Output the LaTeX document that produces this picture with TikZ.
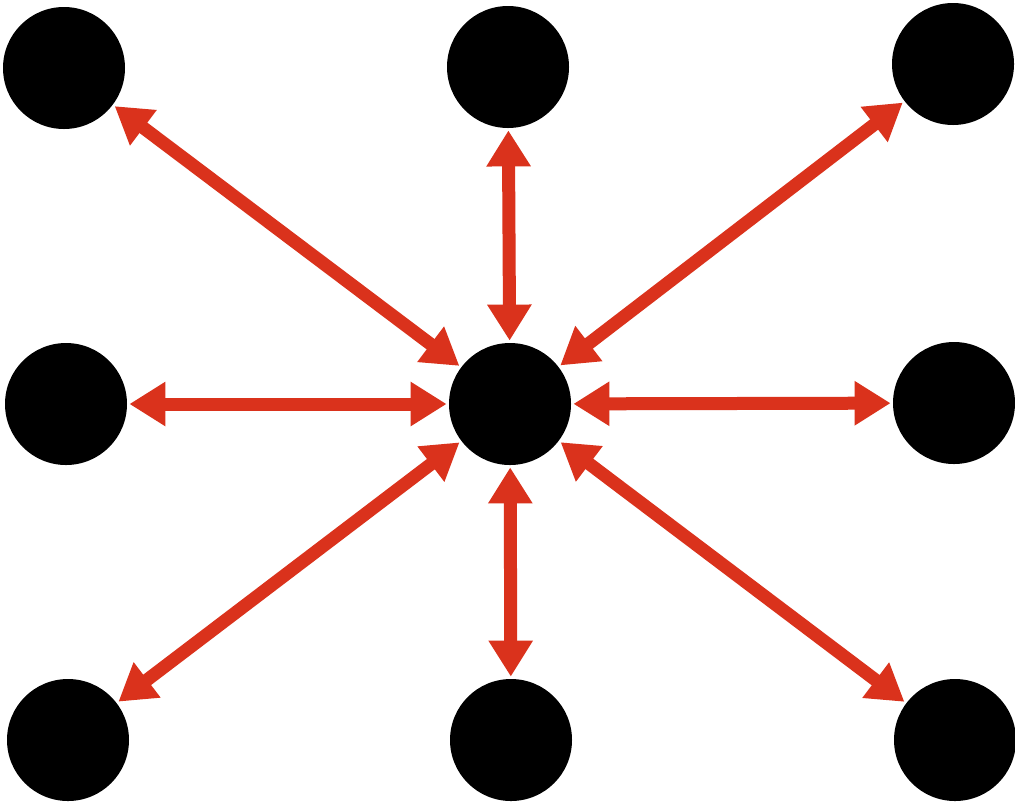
\documentclass[tikz,border=0pt]{standalone}
\usetikzlibrary{arrows.meta}
\definecolor{arrowred}{RGB}{218,50,28}
\begin{document}
\begin{tikzpicture}[x=0.5pt,y=-0.5pt,
  dot/.style={circle,fill=black,draw=none,minimum size=61pt,inner sep=0pt,outer sep=1.2pt},
  link/.style={draw=arrowred,line width=6.5pt,{Triangle[length=18pt,width=21pt]}-{Triangle[length=18pt,width=21pt]}}]
\useasboundingbox (0,0) rectangle (1015,804);
\fill[white] (0,0) rectangle (1015,804);
\node[dot] (c) at (510,404) {};
\node[dot] (tl) at (64,68) {};
\node[dot] (tc) at (508,67) {};
\node[dot] (tr) at (953,64) {};
\node[dot] (ml) at (66,404) {};
\node[dot] (mr) at (954,403) {};
\node[dot] (bl) at (68,740) {};
\node[dot] (bc) at (511,740) {};
\node[dot] (br) at (955,740) {};
\foreach \n in {tl,tc,tr,ml,mr,bl,bc,br}
  \draw[link] (c) -- (\n);
\end{tikzpicture}
\end{document}
